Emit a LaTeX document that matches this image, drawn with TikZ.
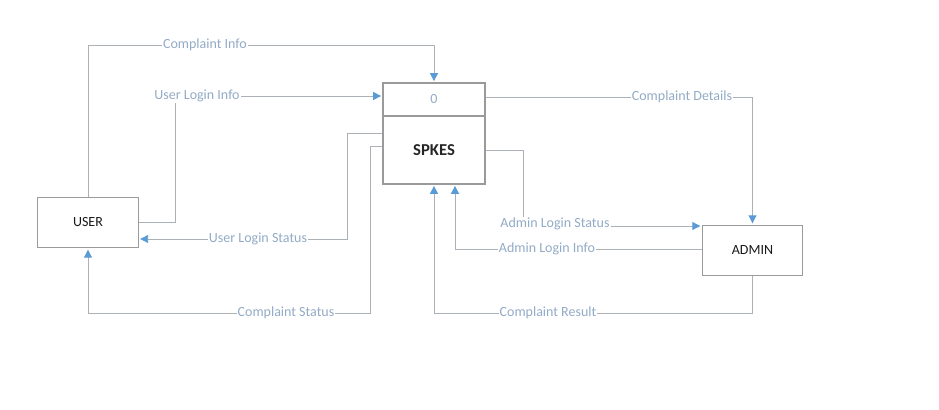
\documentclass[tikz,border=0pt]{standalone}
\usepackage{fontspec}
\setmainfont{Carlito}
\usetikzlibrary{arrows.meta}
\definecolor{linegray}{HTML}{ABB1B7}
\definecolor{boxgray}{HTML}{9A9A9A}
\definecolor{arrowblue}{HTML}{5B9BD5}
\definecolor{lblblue}{HTML}{93ABC6}
\tikzset{
  entity/.style={draw=boxgray, line width=0.8pt, fill=white, minimum width=75.5pt, minimum height=38pt, inner sep=0pt, font=\fontsize{10.5pt}{12pt}\selectfont, text=black!90},
  flow/.style={draw=linegray, line width=0.7pt, -{Triangle[length=6pt,width=6pt,color=arrowblue]}, shorten >=1pt},
  lbl/.style={fill=white, inner sep=0.8pt, text=lblblue, font=\fontsize{10.5pt}{12pt}\selectfont},
}
\begin{document}
\begin{tikzpicture}[x=0.75pt, y=-0.75pt]
\useasboundingbox (0,0) rectangle (939,410);
% nodes
\node[entity] (user) at (88,222.5) {USER};
\node[entity] (admin) at (752.5,250.5) {ADMIN};
\node[draw=boxgray, line width=0.8pt, minimum width=76.5pt, minimum height=24.75pt, inner sep=0pt, text=lblblue, font=\fontsize{10.5pt}{12pt}\selectfont] (pid) at (434,99.5) {0};
\node[draw=boxgray, line width=0.8pt, minimum width=76.5pt, minimum height=51pt, inner sep=0pt, font=\fontsize{12.5pt}{14pt}\selectfont\bfseries, text=black!85] (spkes) at (434,150) {SPKES};
% connectors
\draw[flow] (user.north) -- (88,45) -- (434,45) -- (pid.north);
\draw[flow] (user.east |- 0,222) -- (175,222) -- (175,96) -- (pid.west |- 0,96);
\draw[flow] (spkes.west |- 0,133) -- (347,133) -- (347,239) -- (user.east |- 0,239);
\draw[flow] (spkes.west |- 0,146) -- (370,146) -- (370,313) -- (88,313) -- (user.south);
\draw[flow] (pid.east |- 0,97) -- (752.5,97) -- (admin.north);
\draw[flow] (spkes.east |- 0,150) -- (523,150) -- (523,226) -- (admin.west |- 0,226);
\draw[flow] (admin.west |- 0,249) -- (455,249) -- (spkes.south -| 455,0);
\draw[flow] (admin.south) -- (752.5,313) -- (434,313) -- (spkes.south);
% labels
\node[lbl] (l1) at (205,45) {Complaint Info};
\node[lbl] (l2) at (197,96) {User Login Info};
\node[lbl] (l3) at (258,239) {User Login Status};
\node[lbl] (l4) at (286,313) {Complaint Status};
\node[lbl] (l5) at (682,97) {Complaint Details};
\node[lbl] (l6) at (555,224) {Admin Login Status};
\node[lbl] (l7) at (547,249) {Admin Login Info};
\node[lbl] (l8) at (548,313) {Complaint Result};
\end{tikzpicture}
\end{document}
